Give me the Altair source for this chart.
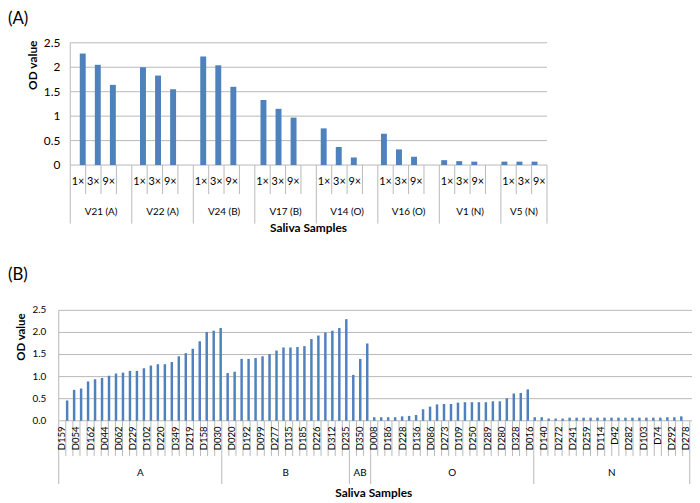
import altair as alt
import pandas as pd

FONT = "Lato"
BAR = "#4F81BD"
GRID = "#B9B9B9"
TXT = "#000000"

# ---------------- Panel (A) data ----------------
groups_a = ["V21 (A)", "V22 (A)", "V24 (B)", "V17 (B)", "V14 (O)", "V16 (O)", "V1 (N)", "V5 (N)"]
dilutions = ["1×", "3×", "9×"]
od_1x = [2.28, 2.00, 2.22, 1.33, 0.75, 0.64, 0.10, 0.07]
od_3x = [2.05, 1.83, 2.04, 1.15, 0.37, 0.32, 0.08, 0.07]
od_9x = [1.64, 1.55, 1.60, 0.97, 0.155, 0.17, 0.07, 0.07]
ticks_a = [0, 0.5, 1, 1.5, 2, 2.5]
tick_labels_a = ["0", "0.5", "1", "1.5", "2", "2.5"]

# ---------------- Panel (B) data ----------------
groups_b = ["A", "B", "AB", "O", "N"]
od_A = [0.46, 0.70, 0.73, 0.89, 0.94, 0.97, 1.02, 1.07, 1.09, 1.13, 1.13, 1.19,
        1.25, 1.28, 1.28, 1.33, 1.46, 1.53, 1.63, 1.80, 2.01, 2.04, 2.10]
od_B = [1.08, 1.11, 1.40, 1.40, 1.42, 1.46, 1.51, 1.59, 1.66, 1.66, 1.67, 1.69,
        1.85, 1.93, 2.00, 2.04, 2.10, 2.30]
od_AB = [1.04, 1.40, 1.75]
od_O = [0.08, 0.08, 0.08, 0.08, 0.10, 0.11, 0.13, 0.26, 0.32, 0.37, 0.38, 0.38,
        0.41, 0.42, 0.42, 0.42, 0.42, 0.44, 0.44, 0.51, 0.62, 0.63, 0.71]
od_N = [0.08, 0.08, 0.05, 0.05, 0.05, 0.07, 0.07, 0.07, 0.07, 0.07, 0.07, 0.07,
        0.07, 0.07, 0.07, 0.07, 0.07, 0.07, 0.07, 0.08, 0.08, 0.10]
ids_A = ["D159", "", "D054", "", "D162", "", "D044", "", "D062", "", "D229", "",
         "D102", "", "D220", "", "D349", "", "D219", "", "D158", "", "D030"]
ids_B = ["", "D020", "", "D192", "", "D099", "", "D277", "", "D135", "", "D185",
         "", "D226", "", "D312", "", "D235"]
ids_AB = ["", "D350", ""]
ids_O = ["D008", "", "D186", "", "D228", "", "D136", "", "D086", "", "D273", "",
         "D109", "", "D250", "", "D289", "", "D280", "", "D328", "", "D016"]
ids_N = ["", "D140", "", "D272", "", "D241", "", "D259", "", "D114", "", "D42",
         "", "D282", "", "D103", "", "D74", "", "D292", "", "D278"]
ticks_b = [0, 0.5, 1, 1.5, 2, 2.5]
tick_labels_b = ["0.0", "0.5", "1.0", "1.5", "2.0", "2.5"]

y_title = "OD value"
x_title = "Saliva Samples"

# ---------------- build tables ----------------
n_slots_a = len(groups_a) * 4 - 1
rows = []
for g, vals in enumerate(zip(od_1x, od_3x, od_9x)):
    for d, v in enumerate(vals):
        rows.append({"xc": g * 4 + d + 0.5, "v": v, "base": 0, "lab": dilutions[d]})
bars_a = pd.DataFrame(rows)
glab_a = pd.DataFrame([{"xc": (g * 4 + min(g * 4 + 4, n_slots_a)) / 2, "lab": n}
                       for g, n in enumerate(groups_a)])
bounds_a = list(range(n_slots_a + 1))
long_a = pd.DataFrame({"b": [b for b in bounds_a if b % 4 == 0 or b == n_slots_a]})
short_a = pd.DataFrame({"b": [b for b in bounds_a if not (b % 4 == 0 or b == n_slots_a)]})
grid_a = pd.DataFrame({"v": ticks_a, "x0": 0, "x1": n_slots_a})
ytl_a = pd.DataFrame({"v": ticks_a, "lab": tick_labels_a})

vals_b = [od_A, od_B, od_AB, od_O, od_N]
ids_b = [ids_A, ids_B, ids_AB, ids_O, ids_N]
rows, glab, starts = [], [], []
i = 0
for gname, vals, ids in zip(groups_b, vals_b, ids_b):
    starts.append(i)
    glab.append({"xc": i + len(vals) / 2, "lab": gname})
    for v, s in zip(vals, ids):
        rows.append({"xc": i + 0.5, "v": v, "base": 0, "lab": s})
        i += 1
n_b = i
bars_b = pd.DataFrame(rows)
lab_b = bars_b[bars_b["lab"] != ""]
glab_b = pd.DataFrame(glab)
long_b = pd.DataFrame({"b": starts + [n_b]})
short_b = pd.DataFrame({"b": [b for b in range(n_b + 1) if b not in starts + [n_b]]})
grid_b = pd.DataFrame({"v": ticks_b, "x0": 0, "x1": n_b + 1})
ytl_b = pd.DataFrame({"v": ticks_b, "lab": tick_labels_b})


def sxa():
    return alt.Scale(domain=[0, n_slots_a], range=[63, 545.3], nice=False, zero=False)


def sya():
    return alt.Scale(domain=[0, 2.5], range=[156, 32.3], nice=False, zero=False)


def sxb():
    return alt.Scale(domain=[0, n_b], range=[51.3, 689.7], nice=False, zero=False)


def syb():
    return alt.Scale(domain=[0, 2.5], range=[414.7, 303], nice=False, zero=False)


def X(f, s):
    return alt.X(f, type="quantitative", scale=s, axis=None)


def Y(f, s):
    return alt.Y(f, type="quantitative", scale=s, axis=None)


def txt(df, **kw):
    return alt.Chart(df).mark_text(font=FONT, color=TXT, **kw)


layers = []
# ---------- panel A ----------
layers.append(alt.Chart(grid_a).mark_rule(color=GRID, strokeWidth=1).encode(
    x=X("x0", sxa()), x2="x1", y=Y("v", sya())))
layers.append(alt.Chart(pd.DataFrame({"b": [0], "t": [2.5], "z": [0]})).mark_rule(color=GRID).encode(
    x=X("b", sxa()), y=Y("t", sya()), y2="z"))
layers.append(alt.Chart(short_a).mark_rule(color=GRID).encode(
    x=X("b", sxa()), y=alt.value(156), y2=alt.value(185.3)))
layers.append(alt.Chart(long_a).mark_rule(color=GRID).encode(
    x=X("b", sxa()), y=alt.value(156), y2=alt.value(215.3)))
layers.append(alt.Chart(bars_a).mark_bar(size=6, color=BAR).encode(
    x=X("xc", sxa()), y=Y("v", sya()), y2="base"))
layers.append(txt(ytl_a, align="right", baseline="middle", fontSize=12).encode(
    x=alt.value(53), y=Y("v", sya()), text="lab:N"))
layers.append(txt(bars_a, align="center", baseline="middle", fontSize=11).encode(
    x=X("xc", sxa()), y=alt.value(173), text="lab:N"))
layers.append(txt(glab_a, align="center", baseline="middle", fontSize=10).encode(
    x=X("xc", sxa()), y=alt.value(203.7), text="lab:N"))
layers.append(txt(pd.DataFrame({"t": [y_title]}), angle=270, align="center", baseline="middle",
                  fontSize=12, fontWeight="bold").encode(x=alt.value(25), y=alt.value(55), text="t:N"))
layers.append(txt(pd.DataFrame({"t": [x_title]}), align="center", baseline="middle",
                  fontSize=12, fontWeight="bold").encode(x=alt.value(304), y=alt.value(220), text="t:N"))
layers.append(txt(pd.DataFrame({"t": ["(A)"]}), align="left", baseline="top",
                  fontSize=17).encode(x=alt.value(0), y=alt.value(0), text="t:N"))

# ---------- panel B ----------
layers.append(alt.Chart(grid_b).mark_rule(color=GRID, strokeWidth=1).encode(
    x=X("x0", sxb()), x2="x1", y=Y("v", syb())))
layers.append(alt.Chart(pd.DataFrame({"b": [0], "t": [2.5], "z": [0]})).mark_rule(color=GRID).encode(
    x=X("b", sxb()), y=Y("t", syb()), y2="z"))
layers.append(alt.Chart(short_b).mark_rule(color=GRID).encode(
    x=X("b", sxb()), y=alt.value(414.7), y2=alt.value(450.3)))
layers.append(alt.Chart(long_b).mark_rule(color=GRID).encode(
    x=X("b", sxb()), y=alt.value(414.7), y2=alt.value(478.7)))
layers.append(alt.Chart(bars_b).mark_bar(size=2.5, color=BAR).encode(
    x=X("xc", sxb()), y=Y("v", syb()), y2="base"))
layers.append(txt(ytl_b, align="right", baseline="middle", fontSize=10).encode(
    x=alt.value(38.7), y=Y("v", syb()), text="lab:N"))
layers.append(txt(lab_b, angle=270, align="right", baseline="middle", fontSize=9.6).encode(
    x=X("xc", sxb()), y=alt.value(420.5), text="lab:N"))
layers.append(txt(glab_b, align="center", baseline="middle", fontSize=10).encode(
    x=X("xc", sxb()), y=alt.value(467.7), text="lab:N"))
layers.append(txt(pd.DataFrame({"t": [y_title]}), angle=270, align="center", baseline="middle",
                  fontSize=11.5, fontWeight="bold").encode(x=alt.value(13.7), y=alt.value(330), text="t:N"))
layers.append(txt(pd.DataFrame({"t": [x_title]}), align="center", baseline="middle",
                  fontSize=12, fontWeight="bold").encode(x=alt.value(370), y=alt.value(488), text="t:N"))
layers.append(txt(pd.DataFrame({"t": ["(B)"]}), align="left", baseline="middle",
                  fontSize=17).encode(x=alt.value(0), y=alt.value(267.5), text="t:N"))

chart = alt.layer(*layers).resolve_scale(x="independent", y="independent").properties(
    width=692, height=495, padding=0,
    autosize=alt.AutoSizeParams(type="none"),
    background="white",
).configure_view(stroke=None)

chart.save("out.html", embed_options={"renderer": "svg", "actions": False})
